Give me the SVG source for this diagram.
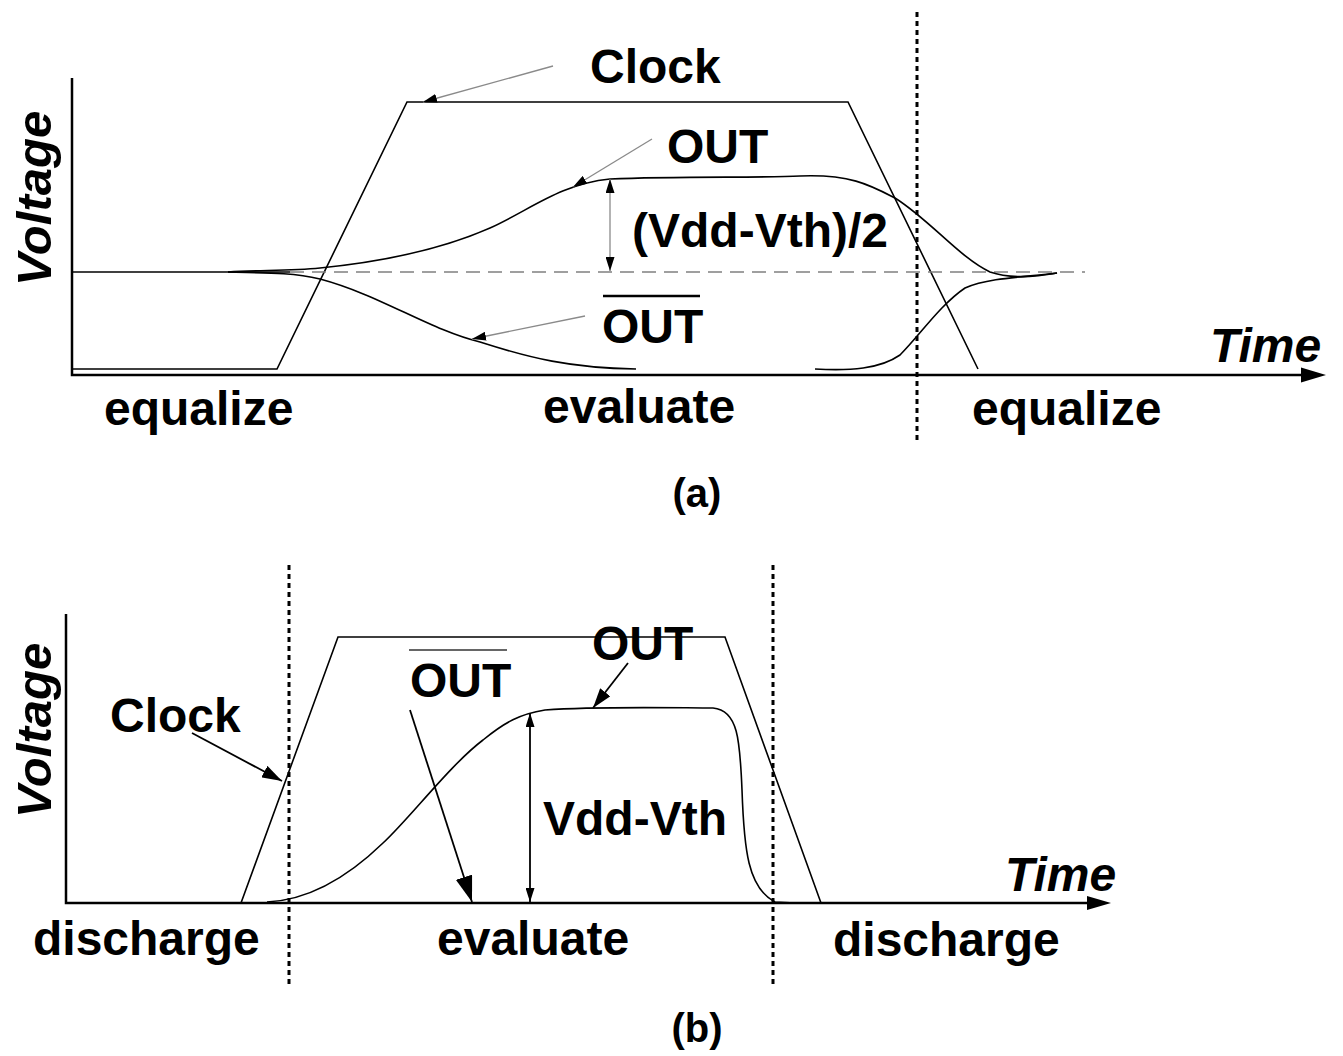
<svg xmlns="http://www.w3.org/2000/svg" width="1343" height="1056" viewBox="0 0 1343 1056">
<style>
.t{font-family:"Liberation Sans",Arial,sans-serif;font-weight:bold;font-size:48px;fill:#000}
.it{font-style:italic}
.ax{stroke:#000;stroke-width:2.5;fill:none}
.wave{stroke:#000;stroke-width:1.6;fill:none}
.dot{stroke:#000;stroke-width:3;stroke-dasharray:5 4;fill:none}
.dash{stroke:#808080;stroke-width:1.6;stroke-dasharray:14 8;fill:none}
.ga{stroke:#8a8a8a;stroke-width:1.3;fill:none}
.ba{stroke:#000;stroke-width:1.8;fill:none}
.bar{stroke:#000;stroke-width:2.5}
</style>
<defs>
<marker id="ahS" markerUnits="userSpaceOnUse" viewBox="0 0 14 9" markerWidth="14" markerHeight="9" refX="14" refY="4.5" orient="auto-start-reverse"><path d="M0,0 L14,4.5 L0,9 z" fill="#000"/></marker>
<marker id="ahM" markerUnits="userSpaceOnUse" viewBox="0 0 20 13" markerWidth="20" markerHeight="13" refX="20" refY="6.5" orient="auto"><path d="M0,0 L20,6.5 L0,13 z" fill="#000"/></marker>
<marker id="ahL" markerUnits="userSpaceOnUse" viewBox="0 0 26 17" markerWidth="26" markerHeight="17" refX="26" refY="8.5" orient="auto"><path d="M0,0 L26,8.5 L0,17 z" fill="#000"/></marker>
</defs>
<rect width="1343" height="1056" fill="#fff"/>

<!-- Panel (a) -->
<g id="a-axes">
<path class="ax" d="M72,78 L72,375 L1302,375"/>
<polygon points="1301,367.5 1326,375 1301,382.5" fill="#000"/>
</g>
<g id="a-clock"><polyline class="wave" points="72,369 277,369 407,102 848,102 978,369"/></g>
<g id="a-ref">
<path class="wave" d="M72,272 L290,272"/>
<path class="dash" d="M290,272 L1085,272"/>
</g>
<g id="a-out"><path class="wave" d="M228,272 C260,270 290,271 320,268 C380,262 440,250 490,228 C530,210 560,184 610,179 C680,176 760,178 800,176 C850,174 870,185 895,198 C930,220 960,258 990,272 C1010,279 1035,277 1057,273"/></g>
<g id="a-outbar">
<path class="wave" d="M228,272 C260,273 290,272 320,279 C380,295 430,330 480,342 C530,358 570,368 636,369"/>
<path class="wave" d="M815,369 C850,371 880,369 900,355 C920,335 940,305 965,288 C990,277 1030,277 1057,273"/>
</g>
<g id="a-divider"><line class="dot" x1="917" y1="12" x2="917" y2="443"/></g>
<g id="a-labels">
<text class="t" x="590" y="83">Clock</text>
<text class="t" x="667" y="163">OUT</text>
<text class="t" x="632" y="247">(Vdd-Vth)/2</text>
<text class="t" x="602" y="343">OUT</text>
<line class="bar" x1="603" y1="296" x2="700" y2="296"/>
<text class="t" x="104" y="425">equalize</text>
<text class="t" x="543" y="423">evaluate</text>
<text class="t" x="972" y="425">equalize</text>
<text class="t it" x="1210" y="362">Time</text>
<text class="t it" transform="translate(51,286) rotate(-90)" style="font-size:49px">Voltage</text>
<text class="t" x="697" y="507" text-anchor="middle" style="font-size:40px">(a)</text>
</g>

<!-- Panel (b) -->
<g id="b-axes">
<path class="ax" d="M66,614 L66,903 L1088,903"/>
<polygon points="1087,896 1111,903 1087,910" fill="#000"/>
</g>
<g id="b-clock"><polyline class="wave" points="241,903 338,637 725,637 821,903"/></g>
<g id="b-out"><path class="wave" d="M267,902 C310,900 350,875 383,843 C410,818 450,765 483,740 C505,722 520,714 545,710 C600,706 680,708 713,708 C738,710 740,740 742,790 C744,850 748,888 775,902 L795,903"/></g>
<g id="b-dividers">
<line class="dot" x1="289" y1="565" x2="289" y2="985"/>
<line class="dot" x1="773" y1="565" x2="773" y2="985"/>
</g>
<g id="b-labels">
<text class="t" x="110" y="732">Clock</text>
<text class="t" x="410" y="697">OUT</text>
<line x1="409" y1="650" x2="507" y2="650" stroke="#666" stroke-width="2"/>
<text class="t" x="592" y="660">OUT</text>
<text class="t" x="543" y="835">Vdd-Vth</text>
<text class="t" x="33" y="955">discharge</text>
<text class="t" x="437" y="955">evaluate</text>
<text class="t" x="833" y="956">discharge</text>
<text class="t it" x="1005" y="891">Time</text>
<text class="t it" transform="translate(51,818) rotate(-90)" style="font-size:49px">Voltage</text>
<text class="t" x="697" y="1042" text-anchor="middle" style="font-size:40px">(b)</text>
</g>

<g id="connectors">
<line class="ga" x1="553" y1="66" x2="423" y2="102" marker-end="url(#ahS)"/>
<line class="ga" x1="652" y1="139" x2="573" y2="187" marker-end="url(#ahS)"/>
<line class="ga" x1="585" y1="316" x2="472" y2="339" marker-end="url(#ahS)"/>
<line class="ga" x1="610" y1="179" x2="610" y2="271" marker-start="url(#ahS)" marker-end="url(#ahS)"/>
<line class="ba" x1="192" y1="733" x2="282" y2="781" marker-end="url(#ahM)"/>
<line class="ba" x1="410" y1="710" x2="472" y2="902" marker-end="url(#ahL)"/>
<line class="ba" x1="628" y1="663" x2="593" y2="708" marker-end="url(#ahM)"/>
<line class="ba" x1="530" y1="713" x2="530" y2="902" marker-start="url(#ahS)" marker-end="url(#ahS)"/>
</g>
</svg>
